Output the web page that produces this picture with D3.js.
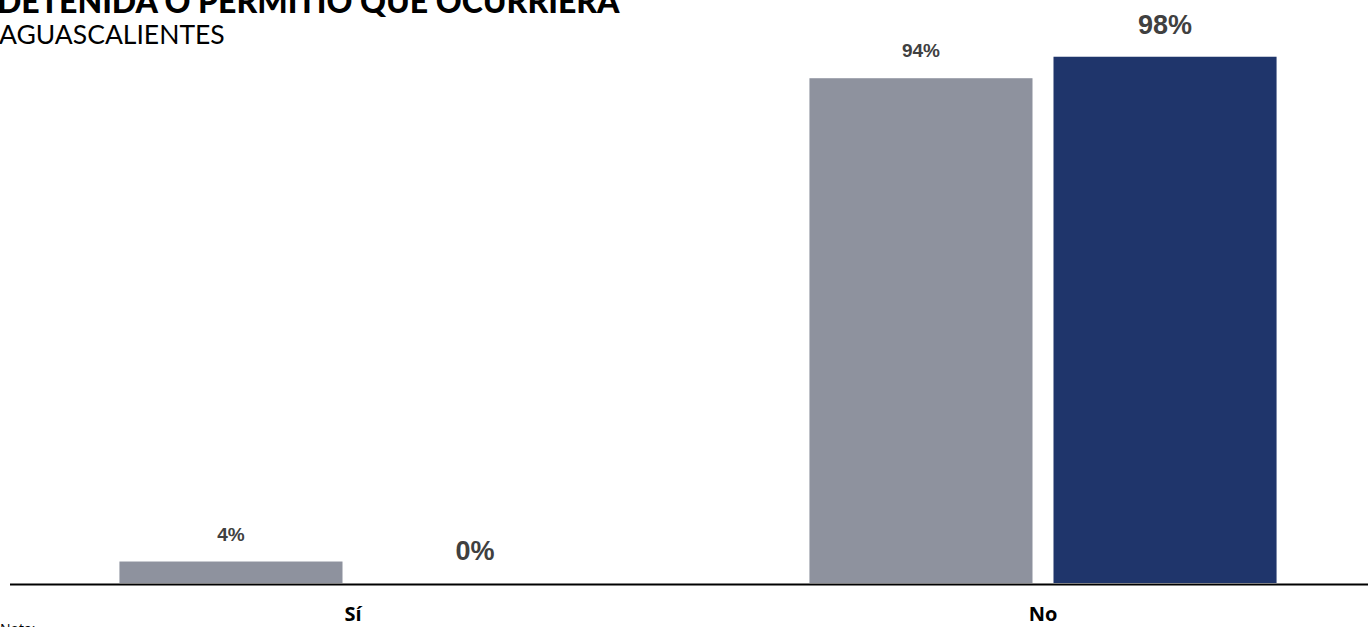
<!DOCTYPE html>
<html><head><meta charset="utf-8">
<script src="https://cdn.jsdelivr.net/npm/d3@7"></script>
<style>body{margin:0;background:#fff}svg{display:block}</style>
</head><body>
<svg id="c" width="1368" height="627"></svg>
<script>
const categories = ["Sí", "No"];
const seriesNames = ["Serie A", "Serie B"];
const seriesA = [4, 94];
const seriesB = [0, 98];
const colors = ["#8e929e", "#1f356b"];

const svg = d3.select("#c");
const W = 1368, H = 627;
const baseY = 583;

const x0 = d3.scaleBand().domain(categories).range([8, 1388]).paddingInner(0.323).paddingOuter(0.1615);
const x1 = d3.scaleBand().domain(seriesNames).range([0, x0.bandwidth()]).paddingInner(0.086).paddingOuter(0);
const y = d3.scaleLinear().domain([0, 100]).range([baseY, 46]);

const data = categories.map((c, i) => ({cat: c, vals: [seriesA[i], seriesB[i]]}));

svg.append("text").attr("x", -3).attr("y", 13)
  .attr("font-family", "Lato").attr("font-weight", 900).attr("font-size", 32)
  .attr("fill", "#000").text("DETENIDA O PERMITIÓ QUE OCURRIERA");
svg.append("text").attr("x", -1).attr("y", 44)
  .attr("font-family", "Lato").attr("font-weight", 400).attr("font-size", 26.5)
  .attr("fill", "#000").text("AGUASCALIENTES");

const g = svg.selectAll("g.cat").data(data).join("g").attr("class","cat")
  .attr("transform", d => `translate(${x0(d.cat)},0)`);

g.selectAll("rect").data(d => d.vals.map((v, j) => ({v, j}))).join("rect")
  .attr("x", d => x1(seriesNames[d.j]))
  .attr("y", d => y(d.v))
  .attr("width", x1.bandwidth())
  .attr("height", d => baseY - y(d.v))
  .attr("fill", d => colors[d.j]);

g.selectAll("text.val").data(d => d.vals.map((v, j) => ({v, j}))).join("text").attr("class","val")
  .attr("x", d => x1(seriesNames[d.j]) + x1.bandwidth()/2)
  .attr("y", d => y(d.v) - (d.j === 0 ? 21 : 23))
  .attr("text-anchor", "middle")
  .attr("font-family", "Liberation Sans, Arial").attr("font-weight", 700)
  .attr("font-size", d => d.j === 0 ? 19 : 27)
  .attr("fill", "#404040")
  .text(d => d.v + "%");

svg.append("line").attr("x1", 10).attr("x2", W).attr("y1", 584.5).attr("y2", 584.5)
  .attr("stroke", "#000").attr("stroke-width", 2);

svg.selectAll("text.cat").data(categories).join("text").attr("class","cat")
  .attr("x", d => x0(d) + x0.bandwidth()/2)
  .attr("y", 621)
  .attr("text-anchor", "middle")
  .attr("font-family", "Open Sans").attr("font-weight", 700).attr("font-size", 20)
  .attr("fill", "#000").text(d => d);

svg.append("text").attr("x", 0).attr("y", 634)
  .attr("font-family", "Open Sans").attr("font-size", 14).attr("fill", "#000").text("Nota:");
</script>
</body></html>
